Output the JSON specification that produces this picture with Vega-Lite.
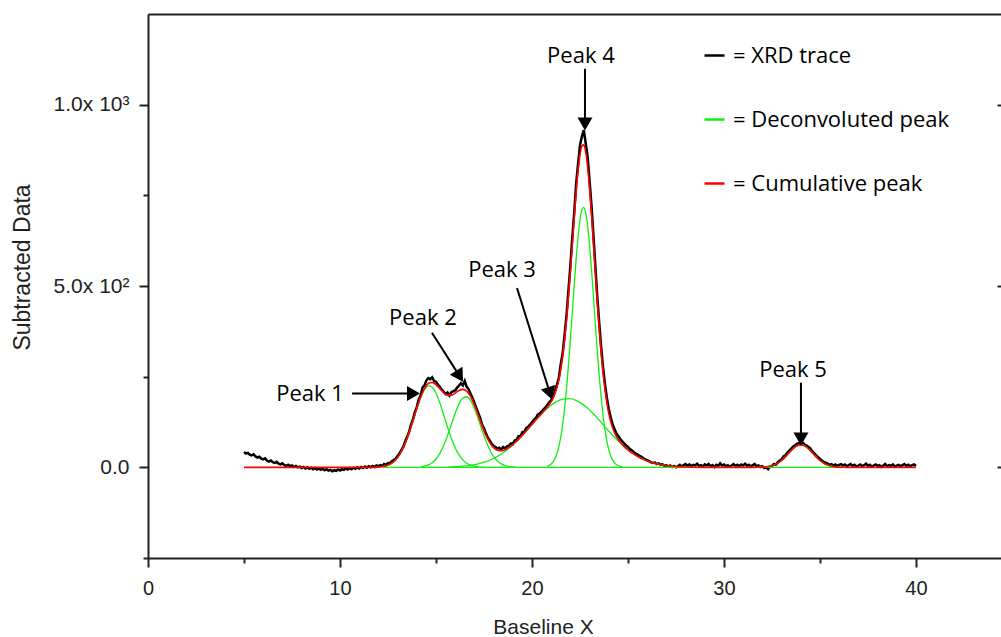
{
"$schema":"https://vega.github.io/schema/vega-lite/v6.json",
"width":853,"height":544,
"autosize":{"type":"none"},
"padding":{"left":148,"top":14,"right":0,"bottom":79},
"background":"white",
"config":{"view":{"stroke":null},"axis":{"labelFont":"Liberation Sans","titleFont":"Liberation Sans","labelColor":"#222","titleColor":"#222","domainColor":"#222","tickColor":"#222","labelFontSize":20,"titleFontSize":21,"titleFontWeight":"normal","domainWidth":2,"tickWidth":2,"grid":false}},
"datasets":{
"xrd":[{"x":5.0,"y":42},{"x":5.1,"y":38},{"x":5.2,"y":40},{"x":5.3,"y":35},{"x":5.4,"y":33},{"x":5.5,"y":36},{"x":5.6,"y":30},{"x":5.7,"y":27},{"x":5.8,"y":29},{"x":5.9,"y":24},{"x":6.0,"y":22},{"x":6.1,"y":25},{"x":6.2,"y":18},{"x":6.3,"y":16},{"x":6.4,"y":19},{"x":6.5,"y":14},{"x":6.6,"y":12},{"x":6.7,"y":15},{"x":6.8,"y":10},{"x":6.9,"y":8},{"x":7.0,"y":11},{"x":7.1,"y":6},{"x":7.2,"y":4},{"x":7.3,"y":7},{"x":7.4,"y":3},{"x":7.5,"y":5},{"x":7.6,"y":1},{"x":7.7,"y":4},{"x":7.8,"y":0},{"x":7.9,"y":2},{"x":8.0,"y":-2},{"x":8.1,"y":1},{"x":8.2,"y":-3},{"x":8.3,"y":0},{"x":8.4,"y":-4},{"x":8.5,"y":-1},{"x":8.6,"y":-5},{"x":8.7,"y":-2},{"x":8.8,"y":-6},{"x":8.9,"y":-3},{"x":9.0,"y":-7},{"x":9.1,"y":-4},{"x":9.2,"y":-8},{"x":9.3,"y":-5},{"x":9.4,"y":-9},{"x":9.5,"y":-7},{"x":9.6,"y":-11},{"x":9.7,"y":-8},{"x":9.8,"y":-10},{"x":9.9,"y":-6},{"x":10.0,"y":-9},{"x":10.1,"y":-5},{"x":10.2,"y":-7},{"x":10.3,"y":-3},{"x":10.4,"y":-6},{"x":10.5,"y":-2},{"x":10.6,"y":-5},{"x":10.7,"y":-1},{"x":10.8,"y":-4},{"x":10.9,"y":0},{"x":11.0,"y":-3},{"x":11.1,"y":1},{"x":11.2,"y":-2},{"x":11.3,"y":2},{"x":11.4,"y":-1},{"x":11.5,"y":3},{"x":11.6,"y":0},{"x":11.7,"y":4},{"x":11.8,"y":1},{"x":11.9,"y":5},{"x":12.0,"y":3},{"x":12.1,"y":6},{"x":12.2,"y":4},{"x":12.3,"y":9},{"x":12.4,"y":7},{"x":12.5,"y":12},{"x":12.6,"y":11},{"x":12.7,"y":17},{"x":12.8,"y":20},{"x":12.9,"y":24},{"x":13.0,"y":31},{"x":13.1,"y":38},{"x":13.2,"y":48},{"x":13.3,"y":57},{"x":13.4,"y":72},{"x":13.5,"y":84},{"x":13.6,"y":98},{"x":13.7,"y":118},{"x":13.8,"y":132},{"x":13.9,"y":152},{"x":14.0,"y":166},{"x":14.1,"y":187},{"x":14.2,"y":198},{"x":14.3,"y":220},{"x":14.4,"y":226},{"x":14.5,"y":240},{"x":14.6,"y":246},{"x":14.7,"y":243},{"x":14.8,"y":248},{"x":14.9,"y":238},{"x":15.0,"y":236},{"x":15.1,"y":228},{"x":15.2,"y":222},{"x":15.3,"y":214},{"x":15.4,"y":209},{"x":15.5,"y":202},{"x":15.6,"y":206},{"x":15.7,"y":198},{"x":15.8,"y":207},{"x":15.9,"y":210},{"x":16.0,"y":212},{"x":16.1,"y":220},{"x":16.2,"y":225},{"x":16.3,"y":232},{"x":16.4,"y":226},{"x":16.5,"y":238},{"x":16.6,"y":222},{"x":16.7,"y":215},{"x":16.8,"y":203},{"x":16.9,"y":192},{"x":17.0,"y":178},{"x":17.1,"y":164},{"x":17.2,"y":150},{"x":17.3,"y":136},{"x":17.4,"y":118},{"x":17.5,"y":108},{"x":17.6,"y":94},{"x":17.7,"y":82},{"x":17.8,"y":74},{"x":17.9,"y":65},{"x":18.0,"y":59},{"x":18.1,"y":56},{"x":18.2,"y":52},{"x":18.3,"y":54},{"x":18.4,"y":49},{"x":18.5,"y":56},{"x":18.6,"y":52},{"x":18.7,"y":58},{"x":18.8,"y":60},{"x":18.9,"y":66},{"x":19.0,"y":64},{"x":19.1,"y":74},{"x":19.2,"y":76},{"x":19.3,"y":86},{"x":19.4,"y":85},{"x":19.5,"y":97},{"x":19.6,"y":98},{"x":19.7,"y":108},{"x":19.8,"y":112},{"x":19.9,"y":118},{"x":20.0,"y":124},{"x":20.1,"y":131},{"x":20.2,"y":136},{"x":20.3,"y":145},{"x":20.4,"y":148},{"x":20.5,"y":154},{"x":20.6,"y":160},{"x":20.7,"y":165},{"x":20.8,"y":172},{"x":20.9,"y":179},{"x":21.0,"y":185},{"x":21.1,"y":196},{"x":21.2,"y":210},{"x":21.3,"y":228},{"x":21.4,"y":247},{"x":21.5,"y":285},{"x":21.6,"y":315},{"x":21.7,"y":366},{"x":21.8,"y":420},{"x":21.9,"y":488},{"x":22.0,"y":556},{"x":22.1,"y":634},{"x":22.2,"y":702},{"x":22.3,"y":782},{"x":22.4,"y":836},{"x":22.5,"y":888},{"x":22.6,"y":912},{"x":22.7,"y":930},{"x":22.8,"y":893},{"x":22.9,"y":856},{"x":23.0,"y":790},{"x":23.1,"y":722},{"x":23.2,"y":640},{"x":23.3,"y":556},{"x":23.4,"y":472},{"x":23.5,"y":400},{"x":23.6,"y":333},{"x":23.7,"y":276},{"x":23.8,"y":230},{"x":23.9,"y":192},{"x":24.0,"y":161},{"x":24.1,"y":138},{"x":24.2,"y":119},{"x":24.3,"y":106},{"x":24.4,"y":93},{"x":24.5,"y":86},{"x":24.6,"y":78},{"x":24.7,"y":72},{"x":24.8,"y":66},{"x":24.9,"y":60},{"x":25.0,"y":56},{"x":25.1,"y":50},{"x":25.2,"y":47},{"x":25.3,"y":42},{"x":25.4,"y":38},{"x":25.5,"y":35},{"x":25.6,"y":32},{"x":25.7,"y":29},{"x":25.8,"y":25},{"x":25.9,"y":22},{"x":26.0,"y":20},{"x":26.1,"y":17},{"x":26.2,"y":14},{"x":26.3,"y":12},{"x":26.4,"y":13},{"x":26.5,"y":9},{"x":26.6,"y":11},{"x":26.7,"y":7},{"x":26.8,"y":8},{"x":26.9,"y":4},{"x":27.0,"y":6},{"x":27.1,"y":2},{"x":27.2,"y":5},{"x":27.3,"y":1},{"x":27.4,"y":4},{"x":27.5,"y":0},{"x":27.6,"y":3},{"x":27.7,"y":7},{"x":27.8,"y":2},{"x":27.9,"y":6},{"x":28.0,"y":9},{"x":28.1,"y":4},{"x":28.2,"y":8},{"x":28.3,"y":3},{"x":28.4,"y":7},{"x":28.5,"y":5},{"x":28.6,"y":10},{"x":28.7,"y":4},{"x":28.8,"y":6},{"x":28.9,"y":2},{"x":29.0,"y":8},{"x":29.1,"y":5},{"x":29.2,"y":9},{"x":29.3,"y":3},{"x":29.4,"y":6},{"x":29.5,"y":1},{"x":29.6,"y":7},{"x":29.7,"y":4},{"x":29.8,"y":11},{"x":29.9,"y":5},{"x":30.0,"y":8},{"x":30.1,"y":3},{"x":30.2,"y":6},{"x":30.3,"y":2},{"x":30.4,"y":5},{"x":30.5,"y":9},{"x":30.6,"y":4},{"x":30.7,"y":7},{"x":30.8,"y":3},{"x":30.9,"y":8},{"x":31.0,"y":5},{"x":31.1,"y":10},{"x":31.2,"y":4},{"x":31.3,"y":7},{"x":31.4,"y":2},{"x":31.5,"y":6},{"x":31.6,"y":9},{"x":31.7,"y":3},{"x":31.8,"y":5},{"x":31.9,"y":1},{"x":32.0,"y":3},{"x":32.1,"y":-2},{"x":32.2,"y":0},{"x":32.3,"y":-5},{"x":32.4,"y":2},{"x":32.5,"y":4},{"x":32.6,"y":9},{"x":32.7,"y":7},{"x":32.8,"y":14},{"x":32.9,"y":18},{"x":33.0,"y":22},{"x":33.1,"y":30},{"x":33.2,"y":33},{"x":33.3,"y":40},{"x":33.4,"y":46},{"x":33.5,"y":51},{"x":33.6,"y":57},{"x":33.7,"y":61},{"x":33.8,"y":65},{"x":33.9,"y":67},{"x":34.0,"y":66},{"x":34.1,"y":68},{"x":34.2,"y":63},{"x":34.3,"y":60},{"x":34.4,"y":56},{"x":34.5,"y":52},{"x":34.6,"y":44},{"x":34.7,"y":39},{"x":34.8,"y":33},{"x":34.9,"y":28},{"x":35.0,"y":23},{"x":35.1,"y":19},{"x":35.2,"y":15},{"x":35.3,"y":13},{"x":35.4,"y":10},{"x":35.5,"y":7},{"x":35.6,"y":9},{"x":35.7,"y":5},{"x":35.8,"y":8},{"x":35.9,"y":4},{"x":36.0,"y":7},{"x":36.1,"y":9},{"x":36.2,"y":5},{"x":36.3,"y":8},{"x":36.4,"y":3},{"x":36.5,"y":6},{"x":36.6,"y":9},{"x":36.7,"y":4},{"x":36.8,"y":7},{"x":36.9,"y":2},{"x":37.0,"y":5},{"x":37.1,"y":8},{"x":37.2,"y":3},{"x":37.3,"y":6},{"x":37.4,"y":10},{"x":37.5,"y":4},{"x":37.6,"y":7},{"x":37.7,"y":2},{"x":37.8,"y":5},{"x":37.9,"y":8},{"x":38.0,"y":4},{"x":38.1,"y":6},{"x":38.2,"y":1},{"x":38.3,"y":5},{"x":38.4,"y":9},{"x":38.5,"y":3},{"x":38.6,"y":6},{"x":38.7,"y":4},{"x":38.8,"y":8},{"x":38.9,"y":2},{"x":39.0,"y":5},{"x":39.1,"y":7},{"x":39.2,"y":3},{"x":39.3,"y":6},{"x":39.4,"y":9},{"x":39.5,"y":4},{"x":39.6,"y":7},{"x":39.7,"y":3},{"x":39.8,"y":6},{"x":39.9,"y":8},{"x":40.0,"y":4}],
"cum":[{"x":5.0,"y":0},{"x":11.8,"y":0},{"x":12.0,"y":1},{"x":12.2,"y":2},{"x":12.4,"y":4},{"x":12.6,"y":8.5},{"x":12.8,"y":15.6},{"x":13.0,"y":26.8},{"x":13.2,"y":43.7},{"x":13.4,"y":66.4},{"x":13.6,"y":95},{"x":13.8,"y":128},{"x":14.0,"y":162},{"x":14.2,"y":193},{"x":14.4,"y":217},{"x":14.6,"y":231},{"x":14.8,"y":234},{"x":15.0,"y":228},{"x":15.2,"y":217},{"x":15.4,"y":206},{"x":15.6,"y":199},{"x":15.8,"y":199},{"x":16.0,"y":205},{"x":16.2,"y":212},{"x":16.4,"y":215},{"x":16.6,"y":210},{"x":16.8,"y":196},{"x":17.0,"y":173},{"x":17.2,"y":145},{"x":17.4,"y":115},{"x":17.6,"y":88.5},{"x":17.8,"y":68},{"x":18.0,"y":54.4},{"x":18.2,"y":47.4},{"x":18.4,"y":46},{"x":18.6,"y":48.7},{"x":18.8,"y":54.6},{"x":19.0,"y":62.6},{"x":19.2,"y":71.8},{"x":19.4,"y":82.8},{"x":19.6,"y":94.3},{"x":19.8,"y":106.2},{"x":20.0,"y":118.2},{"x":20.2,"y":130.4},{"x":20.4,"y":142},{"x":20.6,"y":154},{"x":20.8,"y":166},{"x":20.9,"y":173},{"x":21.0,"y":181},{"x":21.1,"y":191},{"x":21.2,"y":204},{"x":21.3,"y":220.5},{"x":21.4,"y":242},{"x":21.5,"y":271},{"x":21.6,"y":307},{"x":21.7,"y":352},{"x":21.8,"y":408},{"x":21.9,"y":471},{"x":22.0,"y":541},{"x":22.1,"y":615},{"x":22.2,"y":690},{"x":22.3,"y":759},{"x":22.4,"y":817},{"x":22.5,"y":861},{"x":22.6,"y":886},{"x":22.7,"y":889},{"x":22.8,"y":869},{"x":22.9,"y":828},{"x":23.0,"y":770},{"x":23.1,"y":699},{"x":23.2,"y":621},{"x":23.3,"y":538},{"x":23.4,"y":459},{"x":23.5,"y":384},{"x":23.6,"y":319},{"x":23.7,"y":263},{"x":23.8,"y":216},{"x":23.9,"y":179},{"x":24.0,"y":149},{"x":24.1,"y":126},{"x":24.2,"y":109},{"x":24.3,"y":95.5},{"x":24.4,"y":84.7},{"x":24.5,"y":76},{"x":24.6,"y":69},{"x":24.8,"y":57.7},{"x":25.0,"y":48},{"x":25.2,"y":40},{"x":25.4,"y":33.2},{"x":25.6,"y":27},{"x":25.8,"y":21.9},{"x":26.0,"y":17.5},{"x":26.4,"y":10.8},{"x":26.8,"y":6.4},{"x":27.2,"y":3.6},{"x":27.6,"y":1.9},{"x":28.0,"y":1.0},{"x":28.4,"y":0.4},{"x":29.0,"y":0},{"x":31.6,"y":0},{"x":31.8,"y":0.2},{"x":32.0,"y":0.5},{"x":32.2,"y":1.3},{"x":32.4,"y":3.0},{"x":32.6,"y":6.1},{"x":32.8,"y":11.3},{"x":33.0,"y":19},{"x":33.2,"y":29},{"x":33.4,"y":40.5},{"x":33.6,"y":51.3},{"x":33.8,"y":59.2},{"x":34.0,"y":62},{"x":34.2,"y":59.2},{"x":34.4,"y":51.3},{"x":34.6,"y":40.5},{"x":34.8,"y":29},{"x":35.0,"y":19},{"x":35.2,"y":11.3},{"x":35.4,"y":6.1},{"x":35.6,"y":3.0},{"x":35.8,"y":1.3},{"x":36.0,"y":0.5},{"x":36.2,"y":0.2},{"x":36.4,"y":0},{"x":40.0,"y":0}],
"peaks":[{"peak":"base","x":12.25,"y":0},{"peak":"base","x":36.2,"y":0},
{"peak":"1","x":12.2,"y":2},{"peak":"1","x":12.4,"y":4},{"peak":"1","x":12.6,"y":8.5},{"peak":"1","x":12.8,"y":15.6},{"peak":"1","x":13.0,"y":26.8},{"peak":"1","x":13.2,"y":43.7},{"peak":"1","x":13.4,"y":66.4},{"peak":"1","x":13.6,"y":95},{"peak":"1","x":13.8,"y":128},{"peak":"1","x":14.0,"y":162},{"peak":"1","x":14.2,"y":192},{"peak":"1","x":14.4,"y":214},{"peak":"1","x":14.6,"y":224.5},{"peak":"1","x":14.8,"y":221},{"peak":"1","x":15.0,"y":204.5},{"peak":"1","x":15.2,"y":178},{"peak":"1","x":15.4,"y":145},{"peak":"1","x":15.6,"y":111},{"peak":"1","x":15.8,"y":80},{"peak":"1","x":16.0,"y":54},{"peak":"1","x":16.2,"y":34.4},{"peak":"1","x":16.4,"y":20.5},{"peak":"1","x":16.6,"y":11.5},{"peak":"1","x":16.8,"y":6},{"peak":"1","x":17.0,"y":3},{"peak":"1","x":17.2,"y":1.4},{"peak":"1","x":17.4,"y":0.5},{"peak":"1","x":17.6,"y":0},
{"peak":"2","x":14.2,"y":1.4},{"peak":"2","x":14.4,"y":3.2},{"peak":"2","x":14.6,"y":6.6},{"peak":"2","x":14.8,"y":12.8},{"peak":"2","x":15.0,"y":23},{"peak":"2","x":15.2,"y":38.6},{"peak":"2","x":15.4,"y":60},{"peak":"2","x":15.6,"y":87.4},{"peak":"2","x":15.8,"y":118},{"peak":"2","x":16.0,"y":149},{"peak":"2","x":16.2,"y":175},{"peak":"2","x":16.4,"y":191},{"peak":"2","x":16.6,"y":194.6},{"peak":"2","x":16.8,"y":184.5},{"peak":"2","x":17.0,"y":163},{"peak":"2","x":17.2,"y":134},{"peak":"2","x":17.4,"y":102.6},{"peak":"2","x":17.6,"y":73},{"peak":"2","x":17.8,"y":48.6},{"peak":"2","x":18.0,"y":30},{"peak":"2","x":18.2,"y":17.4},{"peak":"2","x":18.4,"y":9.4},{"peak":"2","x":18.6,"y":4.7},{"peak":"2","x":18.8,"y":2.2},{"peak":"2","x":19.0,"y":0.9},{"peak":"2","x":19.2,"y":0},
{"peak":"3","x":15.6,"y":0.85},{"peak":"3","x":16.0,"y":1.65},{"peak":"3","x":16.4,"y":3.1},{"peak":"3","x":16.8,"y":5.6},{"peak":"3","x":17.2,"y":9.5},{"peak":"3","x":17.6,"y":15.5},{"peak":"3","x":18.0,"y":24.4},{"peak":"3","x":18.4,"y":36.6},{"peak":"3","x":18.8,"y":52.4},{"peak":"3","x":19.2,"y":71.8},{"peak":"3","x":19.6,"y":94.3},{"peak":"3","x":20.0,"y":118},{"peak":"3","x":20.4,"y":142},{"peak":"3","x":20.8,"y":163},{"peak":"3","x":21.2,"y":179},{"peak":"3","x":21.6,"y":188},{"peak":"3","x":22.0,"y":189.4},{"peak":"3","x":22.4,"y":182},{"peak":"3","x":22.8,"y":168},{"peak":"3","x":23.2,"y":147.6},{"peak":"3","x":23.6,"y":124},{"peak":"3","x":24.0,"y":100},{"peak":"3","x":24.4,"y":77},{"peak":"3","x":24.8,"y":57},{"peak":"3","x":25.2,"y":40},{"peak":"3","x":25.6,"y":27},{"peak":"3","x":26.0,"y":17.5},{"peak":"3","x":26.4,"y":10.8},{"peak":"3","x":26.8,"y":6.4},{"peak":"3","x":27.2,"y":3.6},{"peak":"3","x":27.6,"y":1.9},{"peak":"3","x":28.0,"y":1.0},
{"peak":"4","x":20.8,"y":3.1},{"peak":"4","x":20.9,"y":5.5},{"peak":"4","x":21.0,"y":9.3},{"peak":"4","x":21.1,"y":15.4},{"peak":"4","x":21.2,"y":24.7},{"peak":"4","x":21.3,"y":38.3},{"peak":"4","x":21.4,"y":57.6},{"peak":"4","x":21.5,"y":84},{"peak":"4","x":21.6,"y":119},{"peak":"4","x":21.7,"y":163},{"peak":"4","x":21.8,"y":218},{"peak":"4","x":21.9,"y":281},{"peak":"4","x":22.0,"y":352},{"peak":"4","x":22.1,"y":427},{"peak":"4","x":22.2,"y":503},{"peak":"4","x":22.3,"y":574},{"peak":"4","x":22.4,"y":635},{"peak":"4","x":22.5,"y":682},{"peak":"4","x":22.6,"y":710},{"peak":"4","x":22.7,"y":716.6},{"peak":"4","x":22.8,"y":701},{"peak":"4","x":22.9,"y":665},{"peak":"4","x":23.0,"y":612},{"peak":"4","x":23.1,"y":546},{"peak":"4","x":23.2,"y":473},{"peak":"4","x":23.3,"y":396},{"peak":"4","x":23.4,"y":323},{"peak":"4","x":23.5,"y":254},{"peak":"4","x":23.6,"y":195},{"peak":"4","x":23.7,"y":145},{"peak":"4","x":23.8,"y":104},{"peak":"4","x":23.9,"y":72.6},{"peak":"4","x":24.0,"y":49},{"peak":"4","x":24.1,"y":32},{"peak":"4","x":24.2,"y":20.4},{"peak":"4","x":24.3,"y":12.7},{"peak":"4","x":24.4,"y":7.5},{"peak":"4","x":24.5,"y":4.3},{"peak":"4","x":24.6,"y":2.5},{"peak":"4","x":24.7,"y":1.3},
{"peak":"5","x":31.8,"y":0.2},{"peak":"5","x":32.0,"y":0.5},{"peak":"5","x":32.2,"y":1.3},{"peak":"5","x":32.4,"y":3.0},{"peak":"5","x":32.6,"y":6.1},{"peak":"5","x":32.8,"y":11.3},{"peak":"5","x":33.0,"y":19},{"peak":"5","x":33.2,"y":29},{"peak":"5","x":33.4,"y":40.5},{"peak":"5","x":33.6,"y":51.3},{"peak":"5","x":33.8,"y":59.2},{"peak":"5","x":34.0,"y":62},{"peak":"5","x":34.2,"y":59.2},{"peak":"5","x":34.4,"y":51.3},{"peak":"5","x":34.6,"y":40.5},{"peak":"5","x":34.8,"y":29},{"peak":"5","x":35.0,"y":19},{"peak":"5","x":35.2,"y":11.3},{"peak":"5","x":35.4,"y":6.1},{"peak":"5","x":35.6,"y":3.0},{"peak":"5","x":35.8,"y":1.3},{"peak":"5","x":36.0,"y":0.5},{"peak":"5","x":36.2,"y":0.2}],
"labels":[{"x":8.44,"y":203,"text":"Peak 1"},{"x":14.32,"y":412,"text":"Peak 2"},{"x":18.44,"y":544,"text":"Peak 3"},{"x":22.55,"y":1135,"text":"Peak 4"},{"x":33.6,"y":269,"text":"Peak 5"}],
"arrows":[{"x":10.63,"y":203.3,"x2":13.83,"y2":203.3},{"x":14.79,"y":370.9,"x2":16.23,"y2":251.4},{"x":19.22,"y":494.5,"x2":20.94,"y2":203.8},{"x":22.76,"y":1098.9,"x2":22.76,"y2":946.5},{"x":34.01,"y":233.5,"x2":34.01,"y2":78.3}],
"heads":[{"x":13.83,"y":203.3,"angle":90},{"x":16.23,"y":251.4,"angle":148},{"x":20.94,"y":203.8,"angle":162},{"x":22.76,"y":946.5,"angle":180},{"x":34.01,"y":78.3,"angle":180}]
},
"resolve":{"axis":{"x":"independent","y":"independent"}},
"layer":[
{"data":{"name":"xrd"},"mark":{"type":"line","strokeWidth":2.5,"strokeJoin":"miter"},
"encoding":{
"x":{"field":"x","type":"quantitative","scale":{"domain":[0,44.43],"nice":false,"zero":false},"axis":{"orient":"bottom","values":[0,10,20,30,40],"tickSize":9,"labelPadding":11,"title":"Baseline X","titleX":395,"titleY":69,"titleBaseline":"middle","titleAlign":"center","labelFlush":false}},
"y":{"field":"y","type":"quantitative","scale":{"domain":[-250,1250],"nice":false,"zero":false},"axis":{"orient":"left","values":[0,500,1000],"tickSize":9,"labelPadding":10,"labelFontSize":21,"labelExpr":"datum.value == 1000 ? '1.0x 10³' : datum.value == 500 ? '5.0x 10²' : '0.0'","title":"Subtracted Data","titleFontSize":23,"titleX":-126,"titleY":253,"titleAngle":-90,"titleBaseline":"middle","titleAlign":"center"}},
"color":{"datum":"= XRD trace","scale":{"domain":["= XRD trace","= Deconvoluted peak","= Cumulative peak"],"range":["#000000","#11ee11","#ff0000"]},
"legend":{"orient":"none","legendX":555,"legendY":30,"title":null,"symbolType":"stroke","symbolSize":400,"symbolStrokeWidth":2.5,"labelFont":"Open Sans","labelFontSize":22,"labelColor":"#000","labelLimit":0,"rowPadding":41,"labelOffset":7,"padding":0}}}},
{"data":{"name":"peaks"},"mark":{"type":"line","strokeWidth":1.3,"interpolate":"monotone"},
"encoding":{
"x":{"field":"x","type":"quantitative","axis":{"orient":"top","ticks":false,"labels":false,"title":null,"domain":true}},
"y":{"field":"y","type":"quantitative","axis":{"orient":"right","values":[0,500,1000],"tickSize":4,"offset":-4,"labels":false,"domain":false,"title":null}},
"detail":{"field":"peak"},
"color":{"datum":"= Deconvoluted peak"}}},
{"data":{"name":"cum"},"mark":{"type":"line","strokeWidth":1.6,"interpolate":"monotone"},
"encoding":{
"x":{"field":"x","type":"quantitative","axis":{"orient":"bottom","values":[5,15,25,35],"tickSize":5,"labels":false,"domain":false,"title":null}},
"y":{"field":"y","type":"quantitative","axis":{"orient":"left","values":[-250,250,750],"tickSize":5,"labels":false,"domain":false,"title":null}},
"color":{"datum":"= Cumulative peak"}}},
{"data":{"name":"arrows"},"mark":{"type":"rule","strokeWidth":2,"color":"#000"},
"encoding":{"x":{"field":"x","type":"quantitative","axis":null},"y":{"field":"y","type":"quantitative","axis":null},"x2":{"field":"x2"},"y2":{"field":"y2"}}},
{"data":{"name":"heads"},"mark":{"type":"point","shape":"triangle-up","filled":true,"color":"#000","size":225,"opacity":1},
"encoding":{"x":{"field":"x","type":"quantitative","axis":null},"y":{"field":"y","type":"quantitative","axis":null},"angle":{"field":"angle","type":"quantitative","scale":null}}},
{"data":{"name":"labels"},"mark":{"type":"text","font":"Open Sans","fontSize":22,"color":"#000","align":"center","baseline":"middle"},
"encoding":{"x":{"field":"x","type":"quantitative","axis":null},"y":{"field":"y","type":"quantitative","axis":null},"text":{"field":"text"}}}
]
}
